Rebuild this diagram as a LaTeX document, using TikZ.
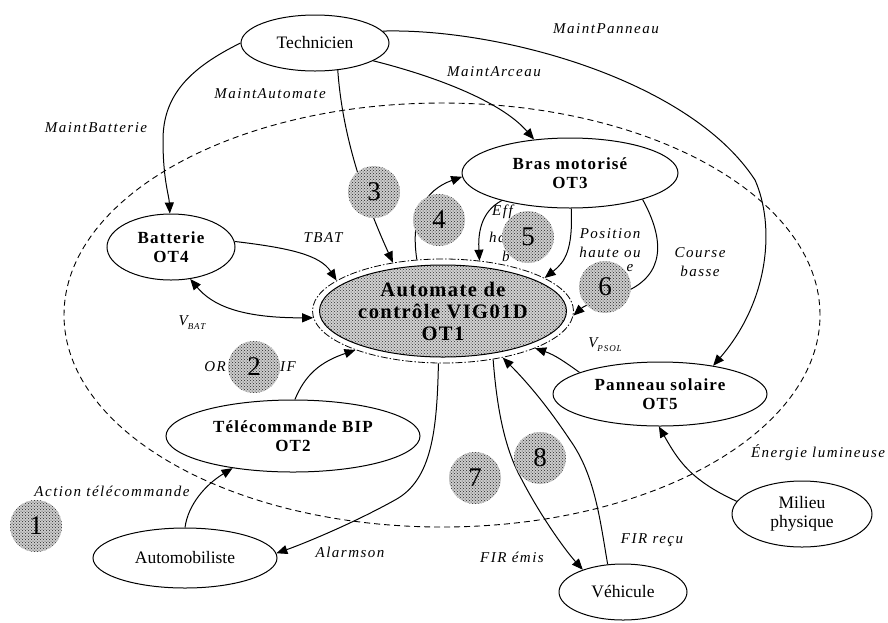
\documentclass[tikz,border=0pt]{standalone}
\usepackage{fontspec}
\setmainfont{Liberation Serif}
\newfontfamily\lblfont[LetterSpace=10]{Liberation Serif}
\newfontfamily\bldfont[LetterSpace=7]{Liberation Serif}
\usetikzlibrary{shapes.geometric,arrows.meta,patterns}
\begin{document}
\begin{tikzpicture}[x=1pt,y=-1pt,
  ent/.style={draw, ellipse, line width=1pt, inner sep=0pt, align=center, font=\fontsize{17.5}{19}\selectfont},
  sysn/.style={ent, font=\bldfont\bfseries\fontsize{17}{19}\selectfont},
  core/.style={draw, ellipse, line width=1pt, inner sep=0pt, align=center, preaction={fill=black!18}, pattern=crosshatch dots, pattern color=black!80, font=\bldfont\bfseries\fontsize{20.5}{22}\selectfont},
  lbl/.style={inner sep=0pt, align=center, font=\lblfont\itshape\fontsize{15}{19}\selectfont},
  num/.style={circle, minimum size=52pt, inner sep=0pt, preaction={fill=black!20}, pattern=crosshatch dots, pattern color=black!85, font=\fontsize{27}{27}\selectfont},
  flow/.style={line width=1pt, -{Triangle[length=11pt,width=9pt]}},
  flow2/.style={line width=1pt, {Triangle[length=11pt,width=9pt]}-{Triangle[length=11pt,width=9pt]}},
  envline/.style={line width=0.9pt, dash pattern=on 6pt off 4pt}
]
\useasboundingbox (0,0) rectangle (888,622);
\draw[envline] (442,315) ellipse [x radius=378pt, y radius=212pt];

% nodes
\node[ent, minimum width=148pt, minimum height=56pt] (tech) at (315,43) {Technicien};
\node[sysn, minimum width=216pt, minimum height=70pt] (bras) at (570,173) {Bras motorisé\\OT3};
\node[sysn, minimum width=128pt, minimum height=66pt] (batt) at (171,247) {Batterie\\OT4};
\node[core, minimum width=247pt, minimum height=92pt] (autoI) at (443,311) {Automate de\\contrôle VIG01D\\OT1};
\node[draw, ellipse, dash pattern=on 7pt off 2pt on 1.5pt off 2pt, line width=0.8pt, minimum width=261pt, minimum height=104pt] (auto) at (443,311) {};
\node[sysn, minimum width=254pt, minimum height=72pt] (tele) at (293,436) {Télécommande BIP\\OT2};
\node[ent, minimum width=184pt, minimum height=60pt] (mobil) at (185,558) {Automobiliste};
\node[sysn, minimum width=214pt, minimum height=64pt] (pan) at (660,394) {Panneau solaire\\OT5};
\node[ent, minimum width=140pt, minimum height=66pt] (mil) at (802,514) {Milieu\\physique};
\node[ent, minimum width=128pt, minimum height=56pt] (veh) at (623,592) {Véhicule};

% connectors
\draw[flow] (tech.180) .. controls (190,68) and (163,95) .. (163,140) .. controls (163,180) and (169,195) .. (batt.92);
\draw[flow] (tech.-50) .. controls (342,130) and (360,190) .. (auto.136);
\draw[flow] (tech.-17) .. controls (430,75) and (500,100) .. (bras.137);
\draw[flow] (tech.10) .. controls (500,28) and (690,80) .. (755,180) .. controls (775,225) and (770,300) .. (pan.28);
\draw[flow] (auto.117) .. controls (410,215) and (425,190) .. (bras.182);
\draw[flow] (bras.202) .. controls (480,212) and (478,235) .. (auto.54);
\draw[flow] (bras.-88) .. controls (573,250) and (565,262) .. (auto.18);
\draw[flow] (bras.-20) .. controls (665,240) and (665,275) .. (625,292) .. controls (600,300) and (585,305) .. (auto.-2);
\draw[flow] (pan.165) .. controls (565,362) and (555,355) .. (auto.-22);
\draw[flow] (batt.5) .. controls (290,248) and (320,255) .. (auto.164);
\draw[flow2] (batt.-59) .. controls (212,305) and (240,318) .. (auto.183);
\draw[flow] (tele.87) .. controls (305,375) and (320,362) .. (auto.204);
\draw[flow] (auto.-95) .. controls (437,430) and (432,480) .. (395,500) .. controls (350,525) and (300,545) .. (mobil.3);
\draw[flow] (mobil.90) .. controls (188,505) and (205,485) .. (tele.208);
\draw[flow] (auto.-44) .. controls (497,410) and (505,450) .. (522,480) .. controls (540,515) and (565,550) .. (veh.151);
\draw[flow] (veh.119) .. controls (600,520) and (595,475) .. (570,440) .. controls (550,410) and (530,385) .. (auto.-38);
\draw[flow] (mil.169) .. controls (690,480) and (678,460) .. (pan.-92);

% labels
\node[lbl] (lMB) at (96,128) {MaintBatterie};
\node[lbl] (lMA) at (270,94) {MaintAutomate};
\node[lbl] (lMR) at (494,72) {MaintArceau};
\node[lbl] (lMP) at (606,29) {MaintPanneau};
\node[lbl] (lTB) at (323,238) {TBAT};
\node[lbl] (lVB) at (192,323) {V\raisebox{-4pt}{\fontsize{9}{9}\selectfont BAT}};
\node[lbl] (lOR) at (215,367) {OR};
\node[lbl] (lIF) at (288,367) {IF};
\node[lbl, anchor=west] (lE1) at (492,212) {Eff};
\node[lbl, anchor=west] (lE2) at (489,237) {ha};
\node[lbl, anchor=west] (lE3) at (502,256) {b};
\node[lbl] (lPo) at (610,243) {Position\\haute ou};
\node[lbl] (lPe) at (630,268) {e};
\node[lbl] (lCo) at (700,262) {Course\\basse};
\node[lbl] (lVP) at (605,345) {V\raisebox{-4pt}{\fontsize{9}{9}\selectfont PSOL}};
\node[lbl] (lAc) at (112,491) {Action télécommande};
\node[lbl] (lAl) at (350,552) {Alarmson};
\node[lbl] (lFe) at (512,557) {FIR émis};
\node[lbl] (lFr) at (652,540) {FIR reçu};
\node[lbl] (lEn) at (818,453) {Énergie lumineuse};

% numbered discs
\node[num] (n1) at (36,526) {1};
\node[num] (n2) at (254,367) {2};
\node[num] (n3) at (374,192) {3};
\node[num] (n4) at (439,220) {4};
\node[num] (n5) at (528,237) {5};
\node[num] (n6) at (605,287) {6};
\node[num] (n7) at (475,478) {7};
\node[num] (n8) at (540,458) {8};
\end{tikzpicture}
\end{document}
